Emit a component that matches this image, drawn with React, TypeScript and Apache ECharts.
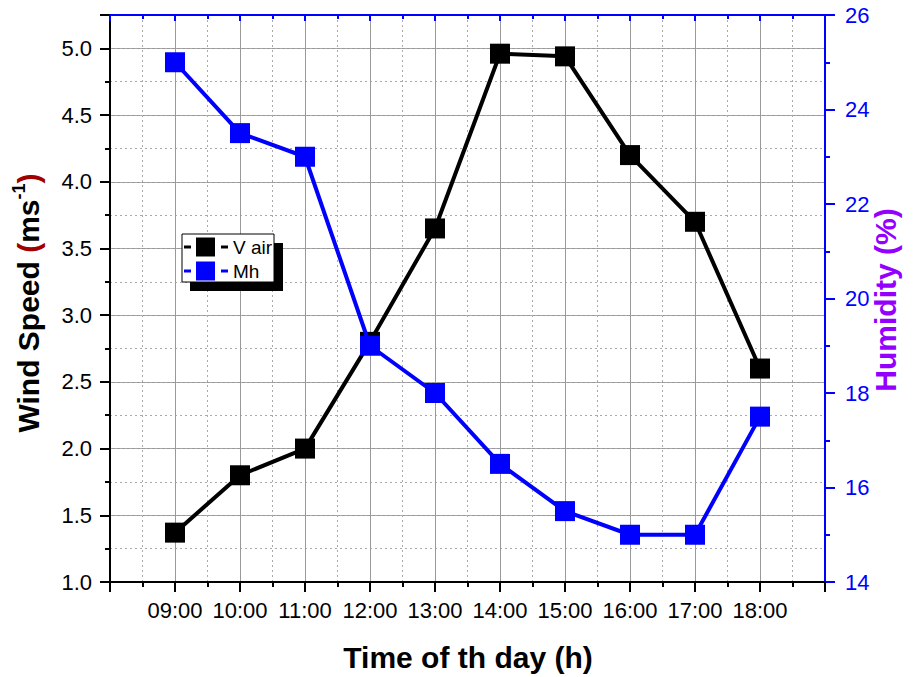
import React, { useEffect, useRef } from "react";
import * as echarts from "echarts";

const hours = [9, 10, 11, 12, 13, 14, 15, 16, 17, 18];
const xTickLabels = ["09:00", "10:00", "11:00", "12:00", "13:00", "14:00", "15:00", "16:00", "17:00", "18:00"];
const vAir = [1.37, 1.8, 2.0, 2.8, 3.65, 4.96, 4.94, 4.2, 3.7, 2.6];
const humidity = [25.0, 23.5, 23.0, 19.0, 18.0, 16.5, 15.5, 15.0, 15.0, 17.5];
const seriesNames = ["V air", "Mh"];

const BLUE = "#0000ff";
const GRID = "#999999";
const DOT = "#aaaaaa";

export default function App() {
  const ref = useRef<HTMLDivElement>(null);
  useEffect(() => {
    if (!ref.current) return;
    const chart = echarts.init(ref.current, undefined, { renderer: "svg" });
    const font = "Liberation Sans, Arial, sans-serif";
    const legendRow = (y: number, color: string, label: string) => [
      { type: "line", z: 20, shape: { x1: 184, y1: y, x2: 191, y2: y }, style: { stroke: color, lineWidth: 3 } },
      { type: "rect", z: 20, shape: { x: 196, y: y - 9.5, width: 19, height: 19 }, style: { fill: color } },
      { type: "line", z: 20, shape: { x1: 221, y1: y, x2: 228, y2: y }, style: { stroke: color, lineWidth: 3 } },
      { type: "text", z: 20, x: 233, y: y, style: { text: label, fill: "#000", fontSize: 19, fontFamily: font, verticalAlign: "middle", align: "left" } },
    ];
    chart.setOption({
      animation: false,
      backgroundColor: "#fff",
      grid: { left: 110, right: 89, top: 15, bottom: 95 },
      xAxis: [
        {
          type: "value", position: "bottom", min: 8, max: 19, interval: 1,
          axisLine: { lineStyle: { color: "#000", width: 2 } },
          axisTick: { show: true, length: 10, lineStyle: { color: "#000", width: 2 } },
          minorTick: { show: true, splitNumber: 2, length: 5, lineStyle: { color: "#000", width: 2 } },
          axisLabel: {
            formatter: (v: number) => { const i = hours.indexOf(v); return i >= 0 ? xTickLabels[i] : ""; },
            fontSize: 22, color: "#000", margin: 17, fontFamily: font,
          },
          splitLine: { show: true, lineStyle: { color: GRID, width: 1 } },
          minorSplitLine: { show: true, lineStyle: { color: DOT, width: 1, type: [2, 3] } },
        },
        {
          type: "value", position: "top", min: 8, max: 19, interval: 1,
          axisLine: { lineStyle: { color: BLUE, width: 2 } },
          axisTick: { show: true, inside: true, length: 6, lineStyle: { color: BLUE, width: 2 } },
          minorTick: { show: true, splitNumber: 2, length: 4, lineStyle: { color: BLUE, width: 2 } },
          axisLabel: { show: false },
          splitLine: { show: false },
        },
      ],
      yAxis: [
        {
          type: "value", position: "left", min: 1, max: 5.25, interval: 0.5,
          axisLine: { show: true, lineStyle: { color: "#000", width: 2 } },
          axisTick: { show: true, length: 10, lineStyle: { color: "#000", width: 2 } },
          minorTick: { show: true, splitNumber: 2, length: 5, lineStyle: { color: "#000", width: 2 } },
          axisLabel: {
            formatter: (v: number) => (v > 5.1 ? "" : v.toFixed(1)),
            fontSize: 22, color: "#000", margin: 18, fontFamily: font, showMaxLabel: false,
          },
          splitLine: { show: true, lineStyle: { color: GRID, width: 1 } },
        },
        {
          type: "value", position: "right", min: 14, max: 26, interval: 2,
          axisLine: { show: true, lineStyle: { color: BLUE, width: 2 } },
          axisTick: { show: true, length: 10, lineStyle: { color: BLUE, width: 2 } },
          minorTick: { show: true, splitNumber: 2, length: 5, lineStyle: { color: BLUE, width: 2 } },
          axisLabel: { fontSize: 22, color: BLUE, margin: 20, fontFamily: font },
          splitLine: { show: false },
        },
        {
          type: "value", position: "left", min: 1, max: 5.25, interval: 0.25,
          axisLine: { show: false }, axisTick: { show: false }, axisLabel: { show: false },
          splitLine: { show: true, lineStyle: { color: DOT, width: 1, type: [2, 3] } },
        },
      ],
      series: [
        {
          name: seriesNames[0], type: "line", xAxisIndex: 0, yAxisIndex: 0,
          data: hours.map((h, i) => [h, vAir[i]]),
          symbol: "rect", symbolSize: 20, showAllSymbol: true,
          lineStyle: { color: "#000", width: 4 }, itemStyle: { color: "#000" }, z: 3,
        },
        {
          name: seriesNames[1], type: "line", xAxisIndex: 0, yAxisIndex: 1,
          data: hours.map((h, i) => [h, humidity[i]]),
          symbol: "rect", symbolSize: 20, showAllSymbol: true,
          lineStyle: { color: BLUE, width: 4 }, itemStyle: { color: BLUE }, z: 4,
        },
      ],
      graphic: [
        {
          type: "text", x: 28, y: 303, rotation: Math.PI / 2,
          style: {
            text: "{b|Wind Speed }{r|(}{b|ms}{s|-1}{r|)}",
            align: "center", verticalAlign: "middle",
            rich: {
              b: { fontSize: 30, fontWeight: "bold", fill: "#000", fontFamily: font, lineHeight: 36 },
              r: { fontSize: 30, fontWeight: "bold", fill: "#a00000", fontFamily: font, lineHeight: 36 },
              s: { fontSize: 18, fontWeight: "bold", fill: "#000", fontFamily: font, lineHeight: 19, verticalAlign: "top" },
            },
          },
        },
        {
          type: "text", x: 885, y: 300, rotation: Math.PI / 2,
          style: { text: "Humidity (%)", fill: "#9400ff", fontSize: 30, fontWeight: "bold", fontFamily: font, align: "center", verticalAlign: "middle" },
        },
        {
          type: "text", x: 468, y: 657,
          style: { text: "Time of th day (h)", fill: "#000", fontSize: 30, fontWeight: "bold", fontFamily: font, align: "center", verticalAlign: "middle" },
        },
        { type: "rect", shape: { x: 190, y: 243, width: 93, height: 48 }, style: { fill: "#000" }, z: 10 },
        { type: "rect", shape: { x: 182, y: 234, width: 92, height: 48 }, style: { fill: "#fff", stroke: "#000", lineWidth: 1 }, z: 11 },
        ...legendRow(247, "#000", seriesNames[0]),
        ...legendRow(271, BLUE, seriesNames[1]),
      ],
    });
    return () => chart.dispose();
  }, []);
  return <div ref={ref} style={{ position: "absolute", left: 0, top: 0, width: 914, height: 677 }} />;
}
